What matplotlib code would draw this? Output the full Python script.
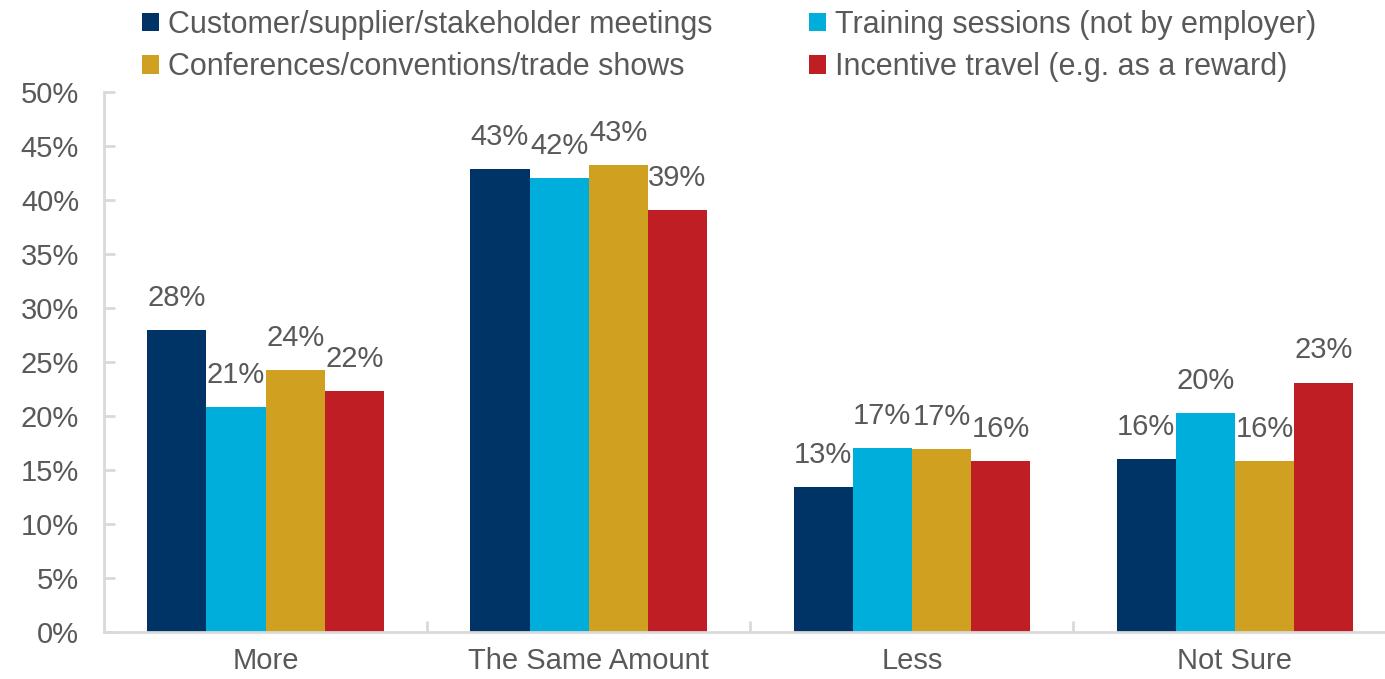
import matplotlib.pyplot as plt
import numpy as np

# Data
categories = ["More", "The Same Amount", "Less", "Not Sure"]
series_names = ["Customer/supplier/stakeholder meetings",
                "Training sessions (not by employer)",
                "Conferences/conventions/trade shows",
                "Incentive travel (e.g. as a reward)"]
customer = [28.0, 42.9, 13.4, 16.0]
training = [20.8, 42.0, 17.0, 20.3]
conferences = [24.3, 43.2, 16.9, 15.8]
incentive = [22.3, 39.1, 15.8, 23.1]

colors = ["#003366", "#00AEDB", "#D0A020", "#BE1E24"]
text_gray = "#595959"
axis_gray = "#D9D9D9"

plt.rcParams['font.family'] = ['Liberation Sans', 'DejaVu Sans']

fig = plt.figure(figsize=(13.85, 6.79), dpi=100)
ax = fig.add_axes([104 / 1385, 1 - 632 / 679, 1 - 104 / 1385, (632 - 92) / 679])

x = np.arange(len(categories))
width = 0.183
all_series = [customer, training, conferences, incentive]
bars = []
for i, vals in enumerate(all_series):
    b = ax.bar(x + (i - 1.5) * width, vals, width, color=colors[i],
               label=series_names[i], zorder=2)
    bars.append(b)
    for rect, v in zip(b, vals):
        ax.annotate(f"{round(v):d}%", (rect.get_x() + rect.get_width() / 2, v),
                    xytext=(0, 13), textcoords="offset points",
                    ha="center", va="bottom", fontsize=21, color=text_gray)

ax.set_ylim(0, 50)
ax.set_xlim(-0.5, 3.5 - 11.5 / 323)
ax.set_yticks(np.arange(0, 51, 5))
ax.set_yticklabels([f"{t}%" for t in range(0, 51, 5)])
ax.set_xticks(x)
ax.set_xticklabels(categories)
ax.set_xticks([0.5, 1.5, 2.5], minor=True)

for s in ["top", "right"]:
    ax.spines[s].set_visible(False)
for s in ["left", "bottom"]:
    ax.spines[s].set_color(axis_gray)
    ax.spines[s].set_linewidth(2)

ax.tick_params(axis="y", direction="in", length=8, width=2, color=axis_gray,
               labelsize=21, labelcolor=text_gray, pad=18)
ax.tick_params(axis="x", which="major", length=0, labelsize=21,
               labelcolor=text_gray, pad=11)
ax.tick_params(axis="x", which="minor", direction="in", length=8, width=2,
               color=axis_gray)

handles = [bars[0], bars[2], bars[1], bars[3]]
labels = [series_names[0], series_names[2], series_names[1], series_names[3]]
fig.legend(handles, labels, ncol=2, loc="upper left",
           bbox_to_anchor=(142 / 1385, 1 - 10 / 679), frameon=False,
           borderpad=0, borderaxespad=0,
           fontsize=22, labelcolor=text_gray, handlelength=0.55,
           handleheight=0.55, handletextpad=0.3, columnspacing=3.15,
           labelspacing=0.4)

fig.savefig("out.png", dpi=100)
